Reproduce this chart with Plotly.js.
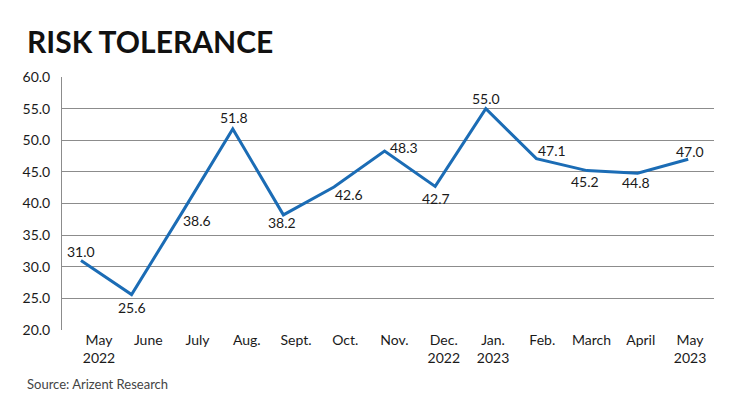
<!DOCTYPE html>
<html><head><meta charset="utf-8">
<script src="https://cdn.plot.ly/plotly-3.0.1.min.js"></script>
<style>html,body{margin:0;padding:0;background:#fff;}#chart{width:740px;height:415px;}</style>
</head><body><div id="chart"></div>
<script>
const months = ["May<br>2022","June","July","Aug.","Sept.","Oct.","Nov.","Dec.<br>2022","Jan.<br>2023","Feb.","March","April","May<br>2023"];
const values = [31.0,25.6,38.6,51.8,38.2,42.6,48.3,42.7,55.0,47.1,45.2,44.8,47.0];
const yTicks = [20,25,30,35,40,45,50,55,60];
// label offsets (style only): [xshift, yshift]
const labelShift = [[0,9],[0,-13],[15,-8],[1,11],[-1,-8],[15,-7],[19,4],[1,-12],[0,10],[16,8],[-2,-11],[-2,-9],[2,8]];

const idx = values.map((v,i)=>i);
const font = "Lato, 'Open Sans', sans-serif";

const traces = [
  {x: idx, y: values, type:'scatter', mode:'lines', line:{color:'#1b6cb5', width:3}, xaxis:'x', yaxis:'y', hoverinfo:'skip'},
  {x: idx, y: values, type:'scatter', mode:'markers', marker:{opacity:0}, xaxis:'x2', yaxis:'y', hoverinfo:'skip'}
];

const annotations = values.map((v,i)=>({
  x: i, y: v, xref:'x', yref:'y', text: v.toFixed(1), showarrow:false,
  xshift: labelShift[i][0], yshift: labelShift[i][1],
  font:{family:font, size:14, color:'#1a1a1a'}
}));
annotations.push({xref:'paper', yref:'paper', x:0, y:1, xshift:-37, yshift:36, xanchor:'left', yanchor:'middle',
  text:'<b>RISK TOLERANCE</b>', showarrow:false, font:{family:font, size:30, color:'#111'}});
annotations.push({xref:'paper', yref:'paper', x:0, y:0, xshift:-37, yshift:-54, xanchor:'left', yanchor:'middle',
  text:'Source: Arizent Research', showarrow:false, font:{family:font, size:13, color:'#444'}});

const layout = {
  width:740, height:415,
  margin:{l:62, r:26, t:77, b:85},
  paper_bgcolor:'#fff', plot_bgcolor:'#fff',
  showlegend:false,
  xaxis:{range:[-0.375,12.51], showticklabels:false, showgrid:false, zeroline:false, ticks:'', fixedrange:true},
  xaxis2:{overlaying:'x', side:'bottom', range:[-0.751,12.487], tickmode:'array', tickvals:idx, ticktext:months,
    showgrid:false, zeroline:false, ticks:'', showline:false,
    tickfont:{family:font, size:14, color:'#1a1a1a'}},
  yaxis:{range:[20,60], tickmode:'array', tickvals:yTicks, ticktext:yTicks.map(t=>t.toFixed(1)),
    showgrid:true, gridcolor:'#8c8c8c', gridwidth:1, zeroline:false, showline:true, linecolor:'#8c8c8c', linewidth:1,
    ticks:'', ticklabelstandoff:8, tickfont:{family:font, size:14, color:'#1a1a1a'}},
  annotations: annotations
};
Plotly.newPlot('chart', traces, layout, {staticPlot:true, displayModeBar:false});
</script></body></html>
